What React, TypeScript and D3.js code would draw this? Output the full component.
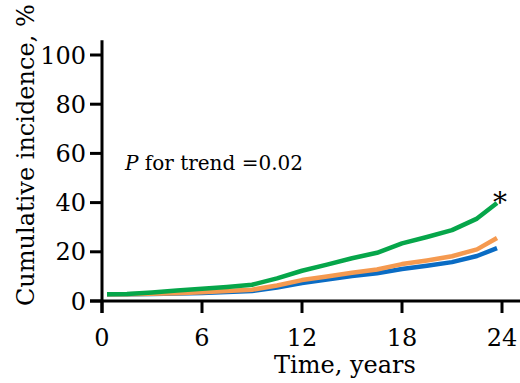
import { useMemo } from "react";
import * as d3 from "d3";

const years = [0.3, 1.5, 3, 4.5, 6, 7.5, 9, 10.5, 12, 13.5, 15, 16.5, 18, 19.5, 21, 22.5, 23.7];
const greenSeries = [2.7, 2.8, 3.5, 4.3, 5.0, 5.7, 6.6, 9.2, 12.3, 14.8, 17.4, 19.6, 23.4, 26.0, 28.8, 33.5, 39.8];
const orangeSeries = [2.7, 2.7, 2.9, 3.2, 3.6, 4.1, 4.6, 6.3, 8.5, 10.0, 11.5, 12.8, 15.0, 16.5, 18.2, 21.0, 25.6];
const blueSeries = [2.7, 2.7, 2.8, 3.0, 3.3, 3.7, 4.1, 5.5, 7.3, 8.7, 10.2, 11.3, 13.0, 14.3, 15.8, 18.3, 21.5];
const xTicks = [0, 6, 12, 18, 24];
const yTicks = [0, 20, 40, 60, 80, 100];

const width = 520;
const height = 383;
const font = "DejaVu Serif";

const App = () => {
  const x = useMemo(() => d3.scaleLinear().domain([0, 24]).range([102, 502]), []);
  const y = useMemo(() => d3.scaleLinear().domain([0, 100]).range([301, 55]), []);

  const line = d3
    .line<number>()
    .x((_, i) => x(years[i]))
    .y((d) => y(d))
    .curve(d3.curveLinear);

  const series = [
    { values: blueSeries, color: "#0a6cc4" },
    { values: orangeSeries, color: "#f59a50" },
    { values: greenSeries, color: "#06a64a" },
  ];

  const last = years.length - 1;

  return (
    <svg
      width={width}
      height={height}
      style={{ position: "absolute", left: 0, top: 0, background: "#fff" }}
    >
      {/* lines */}
      {series.map((s, i) => (
        <path
          key={i}
          d={line(s.values) ?? ""}
          fill="none"
          stroke={s.color}
          strokeWidth={4.5}
          strokeLinejoin="round"
        />
      ))}

      {/* y axis */}
      <line x1={x(0)} x2={x(0)} y1={y(106)} y2={y(0) + 12} stroke="#000" strokeWidth={3} />
      {yTicks.map((t) => (
        <g key={t}>
          <line x1={x(0) - 12} x2={x(0)} y1={y(t)} y2={y(t)} stroke="#000" strokeWidth={3} />
          <text
            x={x(0) - 16}
            y={y(t)}
            dy="0.36em"
            textAnchor="end"
            fontFamily={font}
            fontSize={24}
          >
            {t}
          </text>
        </g>
      ))}

      {/* x axis */}
      <line x1={x(0) - 12} x2={width} y1={y(0)} y2={y(0)} stroke="#000" strokeWidth={3} />
      {xTicks.map((t) => (
        <g key={t}>
          <line x1={x(t)} x2={x(t)} y1={y(0)} y2={y(0) + 12} stroke="#000" strokeWidth={3} />
          <text
            x={x(t)}
            y={y(0) + 45}
            textAnchor="middle"
            fontFamily={font}
            fontSize={24}
          >
            {t}
          </text>
        </g>
      ))}

      <text x={345} y={373} textAnchor="middle" fontFamily={font} fontSize={24}>
        Time, years
      </text>
      <text
        transform={`translate(34,306) rotate(-90)`}
        textAnchor="start"
        fontFamily={font}
        fontSize={24}
      >
        Cumulative incidence, %
      </text>

      <text x={125} y={170} fontFamily={font} fontSize={20}>
        <tspan fontStyle="italic">P</tspan> for trend =0.02
      </text>

      <text
        x={x(years[last]) + 3}
        y={y(greenSeries[last]) + 9}
        textAnchor="middle"
        fontFamily={font}
        fontSize={28}
      >
        *
      </text>
    </svg>
  );
};

export default App;
